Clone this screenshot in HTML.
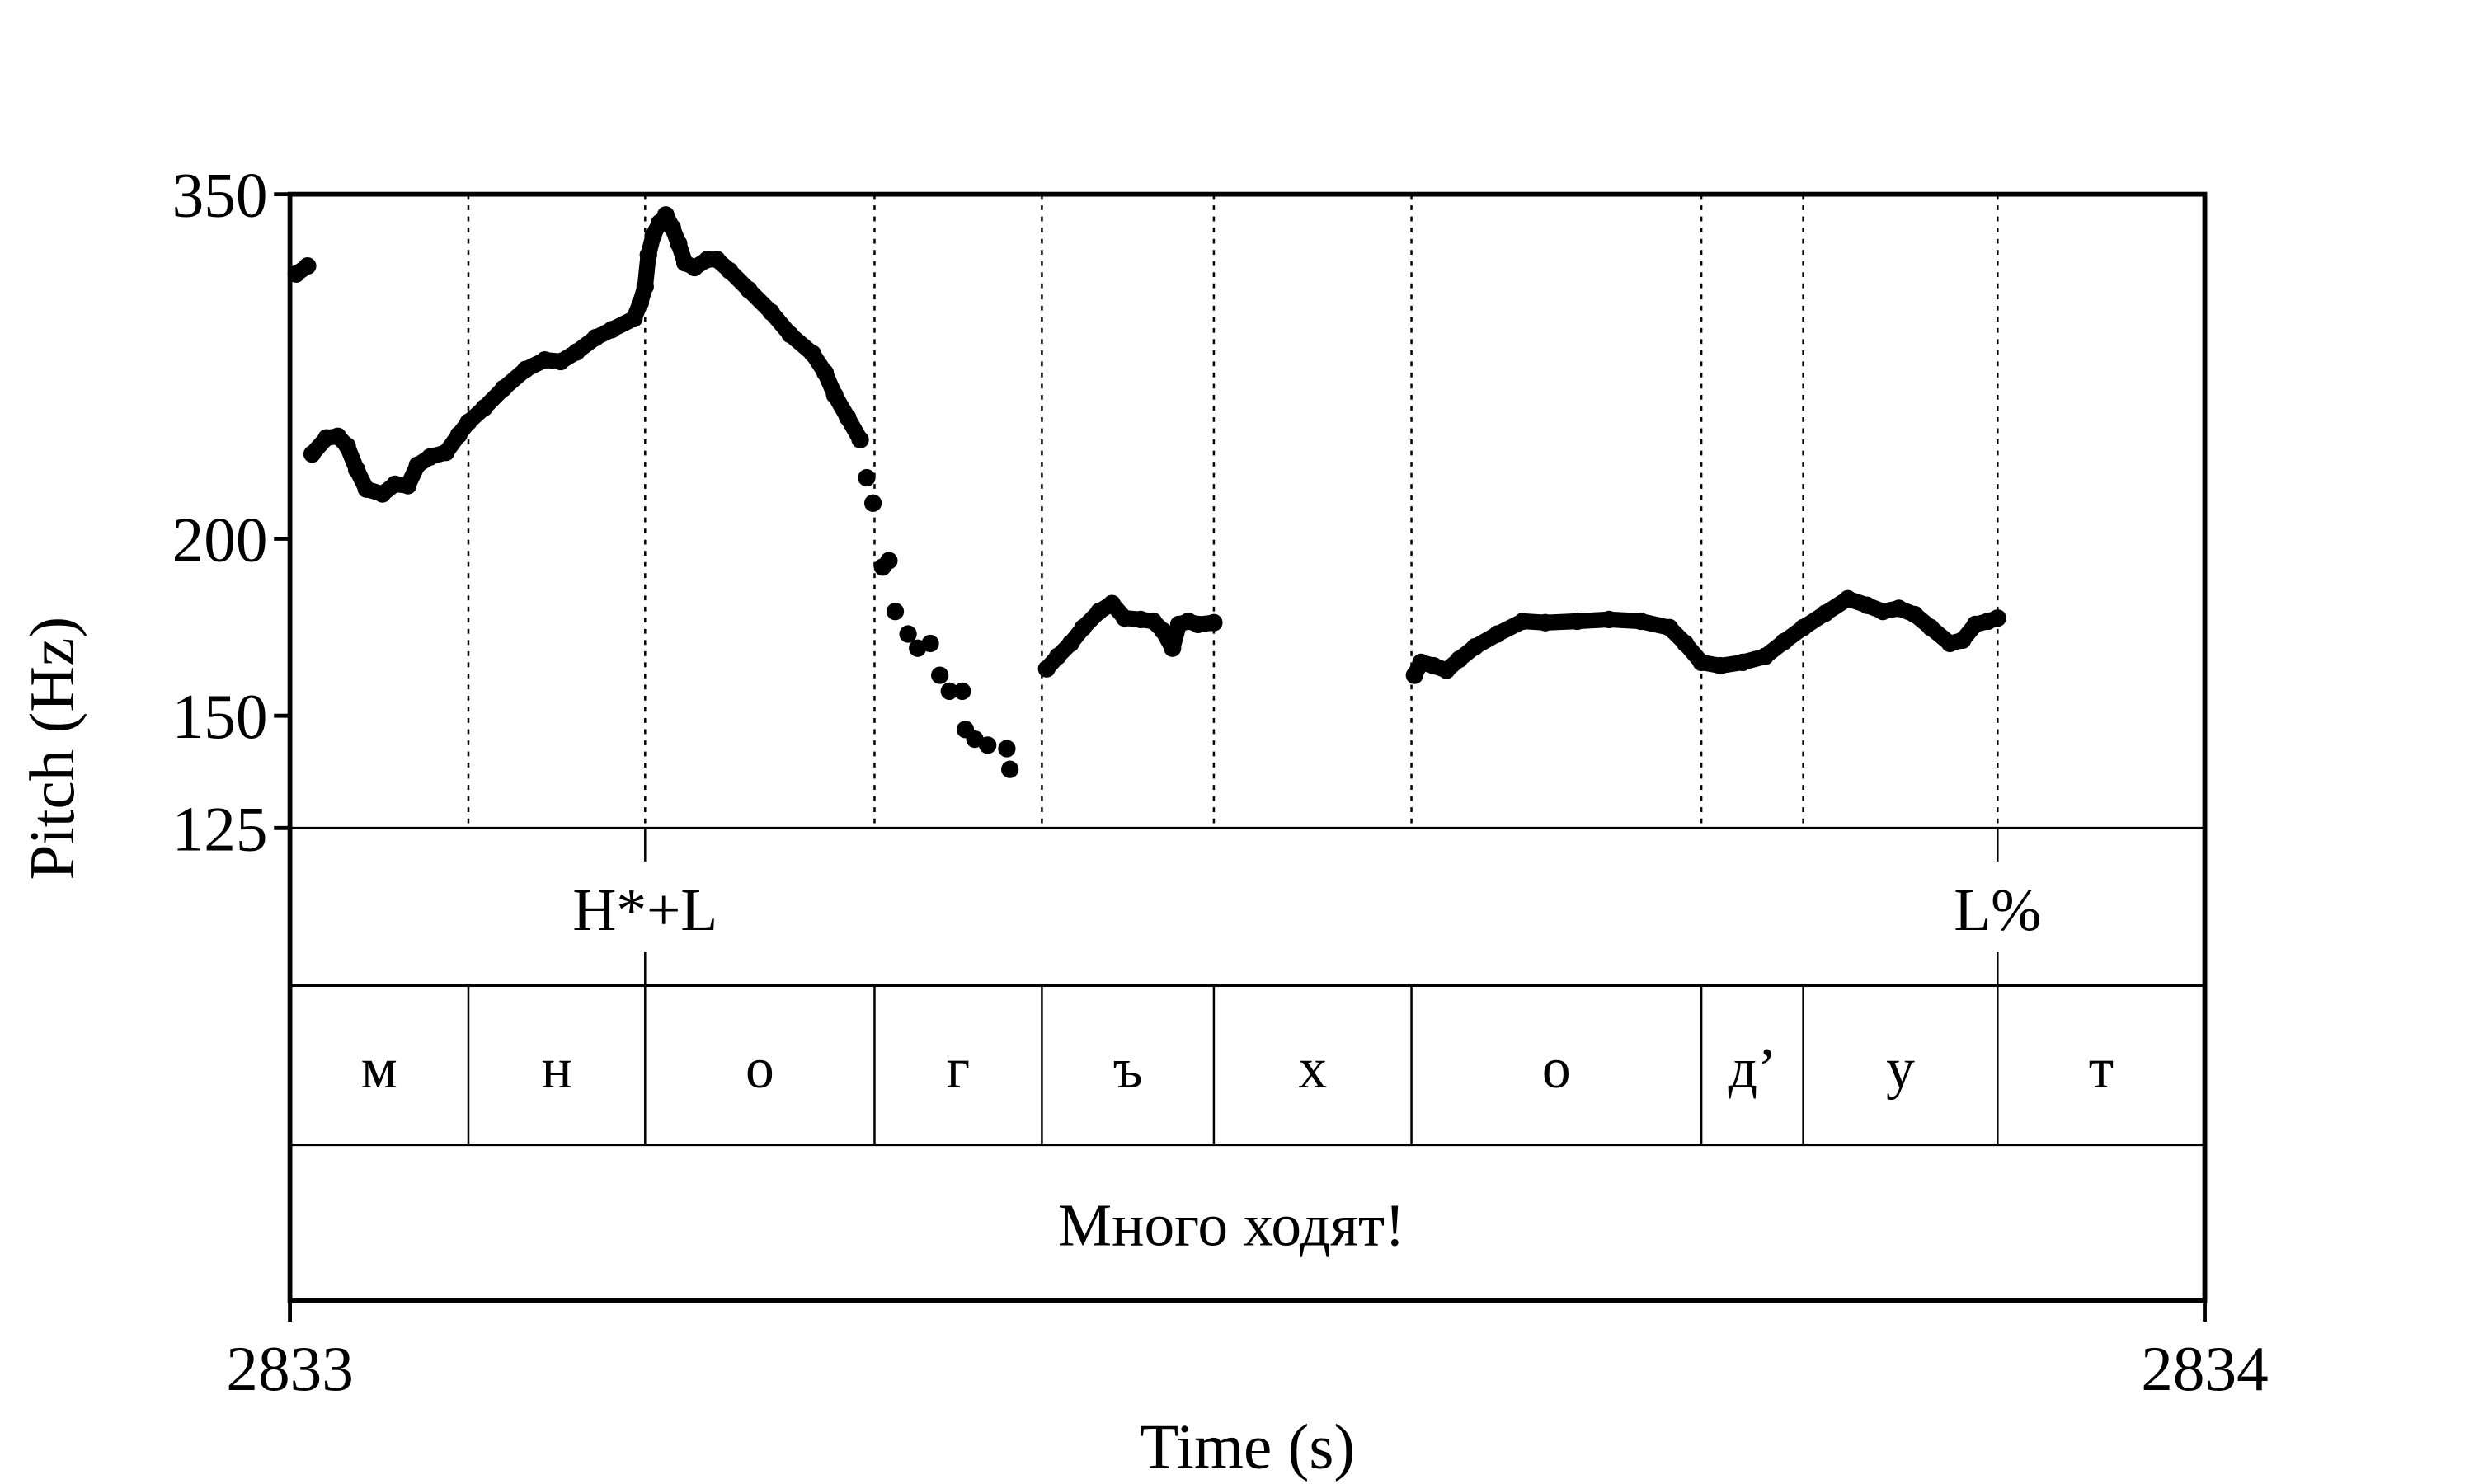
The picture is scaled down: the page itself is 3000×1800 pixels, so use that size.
<!DOCTYPE html>
<html><head><meta charset="utf-8"><style>
html,body{margin:0;padding:0;background:#fff;}
svg{display:block;font-family:"Liberation Serif","DejaVu Serif",serif;}
</style></head><body>
<svg id="chart" width="3000" height="1800" viewBox="0 0 1553 932" preserveAspectRatio="none" xmlns="http://www.w3.org/2000/svg">
<rect x="0" y="0" width="1553" height="932" fill="#fff"/>
<g id="grid"></g>
<g id="tiers"></g>
<g id="marks"></g>
<g id="axes"></g>
</svg>
<script>
// ---- data ----
const yTicks = [350, 200, 150, 125];
const xTickLabels = ["2833", "2834"];
const xTickValues = [0, 1000]; // ms offset from 2833 s
const boundaries = [93.2, 185.5, 305.3, 392.7, 482.5, 585.7, 737.1, 790.3, 891.8];
const phones = ["м","н","о","г","ъ","х","о","д’","у","т"];
const tones = ["H*+L","L%"];
const toneTimes = [185.5, 891.8];
const sentence = "Много ходят!";
// pitch segments: times (ms) and Hz
const segATimes = [3.3, 9.2];
const segAHz = [307.5, 311.5];
const segBTimes = [11.6,19.1,25.0,29.9,34.9,39.9,48.3,54.9,61.6,66.6,73.2,81.5,88.2,93.2,101.5,111.5,123.1,133.1,141.4,149.7,159.7,168.1,179.7,183.0,185.5,187.2,189.7,193.0,196.3,199.7,203.0,206.3,211.3,218.0,223.0,229.6,239.6,251.3,261.2,272.9,279.5,284.5,291.2,297.8];
const segBHz = [229.5,235.6,236.2,232.5,223.7,216.8,215.1,218.5,218.0,225.4,228.4,230.1,236.8,241.7,247.4,255.3,263.3,267.4,266.7,270.9,277.3,280.9,286.0,293.5,301.2,317.2,327.2,334.1,338.4,331.5,323.0,313.1,310.7,314.8,314.8,309.1,299.7,289.0,278.7,270.2,261.9,252.6,243.6,234.9];
const segCTimes = [301.2,304.5,309.5,312.8,316.1,322.8,327.8,334.4,339.4,344.4,351.1,352.7,357.7,364.4,374.4,376.0];
const segCHz = [220.8,211.9,191.0,193.0,177.7,171.3,167.4,168.7,160.2,156.1,156.1,146.7,144.4,143.0,142.2,137.5];
const segDTimes = [395.2,401.0,407.7,414.3,422.6,429.3,435.9,444.3,450.9,455.9,460.9,464.2,469.2,474.2,482.5];
const segDHz = [161.9,165.2,168.7,173.1,177.7,180.0,175.8,175.4,174.9,172.2,167.4,174.0,174.9,174.0,174.5];
const segETimes = [587.3,590.7,597.3,604.0,610.6,618.9,630.6,643.9,655.6,672.2,688.9,705.5,720.4,728.7,737.1,747.1,758.7,770.4,780.3,790.3,801.9,813.6,823.6,831.9,840.2,848.6,856.9,866.9,873.5,880.2,886.8,891.8];
const segEHz = [160.2,163.6,162.7,161.5,164.4,167.8,171.3,174.9,174.5,174.9,175.4,174.9,173.1,168.7,163.6,162.7,163.6,165.2,169.2,173.1,177.2,181.4,179.5,177.7,178.6,176.8,173.1,168.7,169.6,174.0,174.9,175.8];

// ---- layout ----
const X0 = 182, X1 = 1384, YT = 122, YB = 520;
const T1 = 619, T2 = 719, T3 = 817;
const HZMAX = 350, HZMIN = 125;
function xs(ms){ return X0 + (ms/1000)*(X1-X0); }
function ys(hz){ return YT + (Math.log(HZMAX)-Math.log(hz))/(Math.log(HZMAX)-Math.log(HZMIN))*(YB-YT); }
const NS = "http://www.w3.org/2000/svg";
function mk(tag, attrs, parent){ const e=document.createElementNS(NS,tag); for(const k in attrs) e.setAttribute(k,attrs[k]); parent.appendChild(e); return e; }
const grid = document.getElementById('grid'), tiers=document.getElementById('tiers'), marks=document.getElementById('marks'), axes=document.getElementById('axes');

boundaries.forEach((b,i)=>{
  const x = xs(b);
  const d = mk('line',{x1:x,y1:YT,x2:x,y2:YB,stroke:'#000','stroke-width':1.3,'stroke-dasharray':'3,4'},grid);
  
  
  const s = mk('line',{x1:x,y1:T1,x2:x,y2:T2,stroke:'#000','stroke-width':1.3},tiers);
  
  
});
[YB, T1, T2].forEach(y=>{
  const l = mk('line',{x1:X0,y1:y,x2:X1,y2:y,stroke:'#000','stroke-width':1.5},tiers);
  
  
});
tones.forEach((t,i)=>{
  const x = xs(toneTimes[i]);
  const l1 = mk('line',{x1:x,y1:YB,x2:x,y2:541,stroke:'#000','stroke-width':1.3},tiers);
  
  
  const l2 = mk('line',{x1:x,y1:598,x2:x,y2:T1,stroke:'#000','stroke-width':1.3},tiers);
  
  
  const tx = mk('text',{x:x,y:584,'font-size':38,'text-anchor':'middle'},tiers);
  tx.textContent = t;
  
  
});
const edges = [0].concat(boundaries).concat([1000]);
phones.forEach((p,i)=>{
  const x = (xs(edges[i])+xs(edges[i+1]))/2;
  const tx = mk('text',{x:x,y:683,'font-size':36,'text-anchor':'middle'},tiers);
  tx.textContent = p;
  
  
});
const sen = mk('text',{x:(X0+X1)/2 - 10,y:782,'font-size':38,'text-anchor':'middle'},tiers);
sen.textContent = sentence;



function drawSeg(times, hz, connect){
  if(connect){
    const pts = times.map((t,i)=>xs(t)+','+ys(hz[i])).join(' ');
    const pl = mk('polyline',{points:pts,fill:'none',stroke:'#000','stroke-width':10,'stroke-linejoin':'round','stroke-linecap':'round'},marks);
    
    
  }
  times.forEach((t,i)=>{
    const c = mk('circle',{cx:xs(t),cy:ys(hz[i]),r:5.5,fill:'#000'},marks);
    
    
  });
}
drawSeg(segATimes, segAHz, true);
drawSeg(segBTimes, segBHz, true);
drawSeg(segCTimes, segCHz, false);
drawSeg(segDTimes, segDHz, true);
drawSeg(segETimes, segEHz, true);

const fr = mk('rect',{x:X0,y:YT,width:X1-X0,height:T3-YT,fill:'none',stroke:'#000','stroke-width':3},axes);


yTicks.forEach(v=>{
  const y = ys(v);
  const t = mk('line',{x1:172,y1:y,x2:X0,y2:y,stroke:'#000','stroke-width':2.5},axes);
  
  
  const tx = mk('text',{x:168,y:y+14,'font-size':40,'text-anchor':'end'},axes);
  tx.textContent = String(v);
  
  
});
xTickValues.forEach((v,i)=>{
  const x = xs(v);
  const t = mk('line',{x1:x,y1:T3,x2:x,y2:830,stroke:'#000','stroke-width':2.5},axes);
  
  
  const tx = mk('text',{x:x,y:873,'font-size':40,'text-anchor':'middle'},axes);
  tx.textContent = xTickLabels[i];
  
  
});
const xt = mk('text',{x:783,y:922,'font-size':40,'text-anchor':'middle'},axes);
xt.textContent = 'Time (s)';


const yt = mk('text',{x:0,y:0,'font-size':40,'text-anchor':'middle',transform:'translate(46,470) rotate(-90)'},axes);
yt.textContent = 'Pitch (Hz)';


</script>
</body></html>
